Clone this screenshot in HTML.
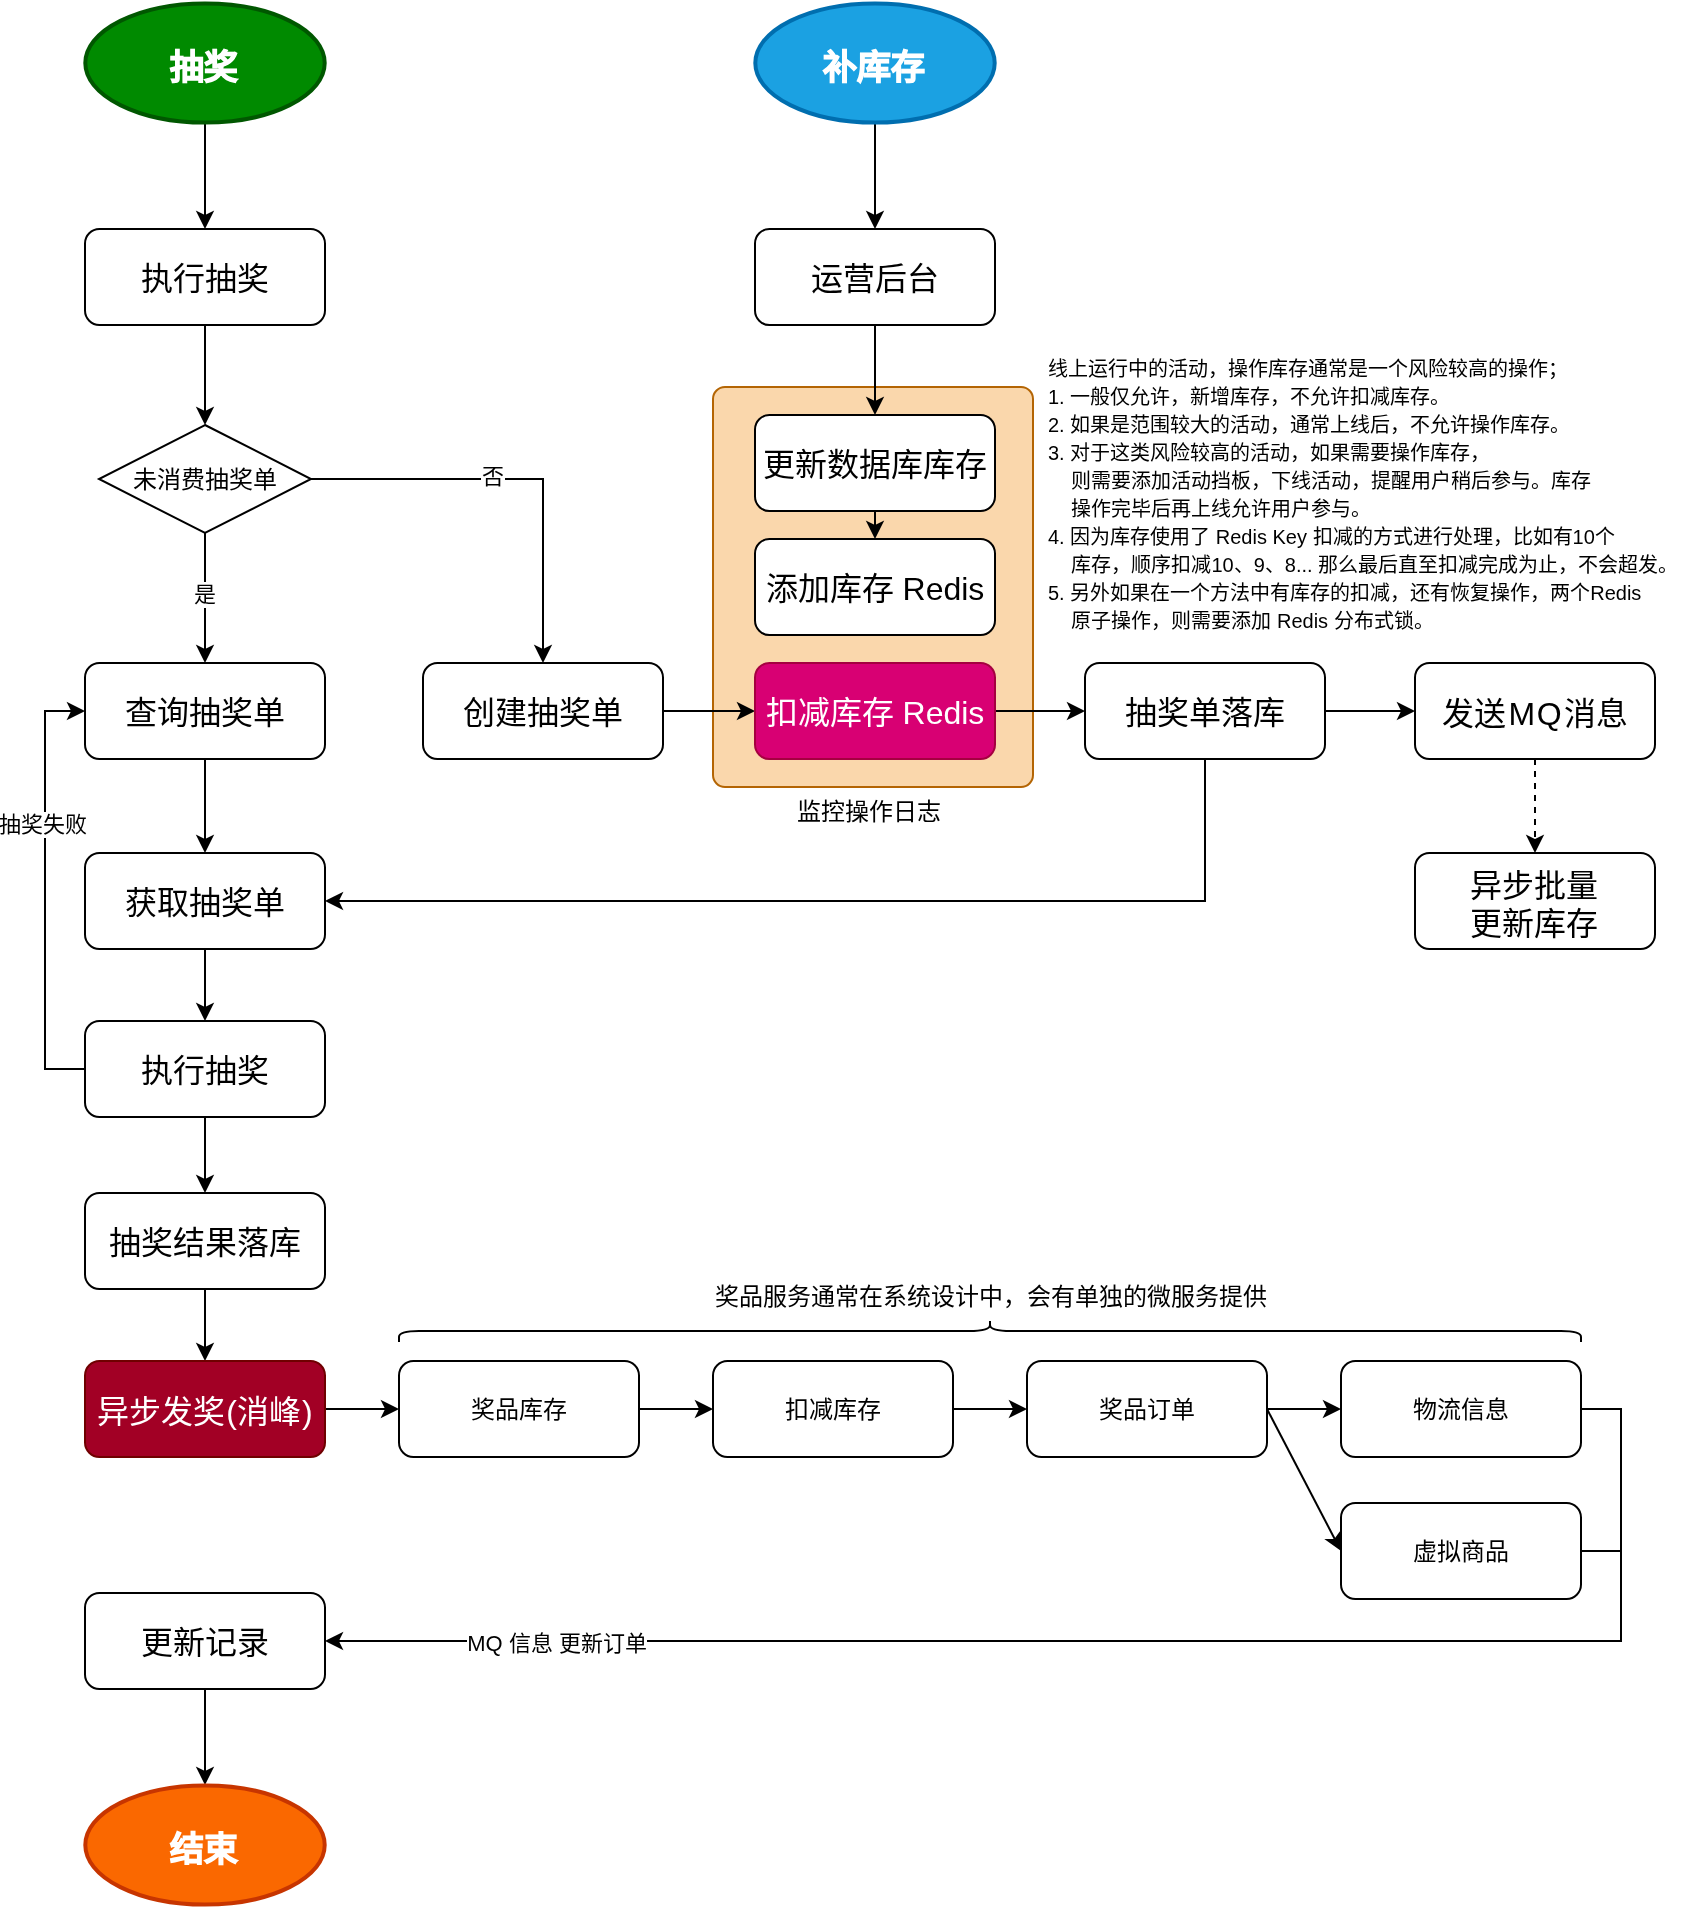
<!DOCTYPE html>
<html lang="zh-CN"><head><meta charset="utf-8"><title>flow</title>
<style>html,body{margin:0;padding:0;background:#fff;}body{width:1698px;height:1908px;overflow:hidden;}
svg{display:block;font-family:'Liberation Sans', sans-serif;will-change:transform;}</style></head>
<body><svg width="1698" height="1908" viewBox="0 0 1698 1908">
<rect width="1698" height="1908" fill="#fff"/>
<path d="M205.00 123.00 L205.00 216.26" fill="none" stroke="#000" stroke-width="2"/><path d="M205.00 226.76 L198.00 212.76 L205.00 216.26 L212.00 212.76 Z" fill="#000" stroke="#000" stroke-width="2" stroke-miterlimit="10"/>
<path d="M205.00 325.00 L205.00 412.26" fill="none" stroke="#000" stroke-width="2"/><path d="M205.00 422.76 L198.00 408.76 L205.00 412.26 L212.00 408.76 Z" fill="#000" stroke="#000" stroke-width="2" stroke-miterlimit="10"/>
<path d="M205.00 533.00 L205.00 650.26" fill="none" stroke="#000" stroke-width="2"/><path d="M205.00 660.76 L198.00 646.76 L205.00 650.26 L212.00 646.76 Z" fill="#000" stroke="#000" stroke-width="2" stroke-miterlimit="10"/>
<path d="M311.00 479.00 L543.00 479.00 L543.00 650.26" fill="none" stroke="#000" stroke-width="2"/><path d="M543.00 660.76 L536.00 646.76 L543.00 650.26 L550.00 646.76 Z" fill="#000" stroke="#000" stroke-width="2" stroke-miterlimit="10"/>
<path d="M205.00 759.00 L205.00 840.26" fill="none" stroke="#000" stroke-width="2"/><path d="M205.00 850.76 L198.00 836.76 L205.00 840.26 L212.00 836.76 Z" fill="#000" stroke="#000" stroke-width="2" stroke-miterlimit="10"/>
<path d="M205.00 949.00 L205.00 1008.26" fill="none" stroke="#000" stroke-width="2"/><path d="M205.00 1018.76 L198.00 1004.76 L205.00 1008.26 L212.00 1004.76 Z" fill="#000" stroke="#000" stroke-width="2" stroke-miterlimit="10"/>
<path d="M85.00 1069.00 L45.00 1069.00 L45.00 711.00 L72.26 711.00" fill="none" stroke="#000" stroke-width="2"/><path d="M82.76 711.00 L68.76 718.00 L72.26 711.00 L68.76 704.00 Z" fill="#000" stroke="#000" stroke-width="2" stroke-miterlimit="10"/>
<path d="M205.00 1117.00 L205.00 1180.26" fill="none" stroke="#000" stroke-width="2"/><path d="M205.00 1190.76 L198.00 1176.76 L205.00 1180.26 L212.00 1176.76 Z" fill="#000" stroke="#000" stroke-width="2" stroke-miterlimit="10"/>
<path d="M205.00 1289.00 L205.00 1348.26" fill="none" stroke="#000" stroke-width="2"/><path d="M205.00 1358.76 L198.00 1344.76 L205.00 1348.26 L212.00 1344.76 Z" fill="#000" stroke="#000" stroke-width="2" stroke-miterlimit="10"/>
<path d="M325.00 1409.00 L386.26 1409.00" fill="none" stroke="#000" stroke-width="2"/><path d="M396.76 1409.00 L382.76 1416.00 L386.26 1409.00 L382.76 1402.00 Z" fill="#000" stroke="#000" stroke-width="2" stroke-miterlimit="10"/>
<path d="M639.00 1409.00 L700.26 1409.00" fill="none" stroke="#000" stroke-width="2"/><path d="M710.76 1409.00 L696.76 1416.00 L700.26 1409.00 L696.76 1402.00 Z" fill="#000" stroke="#000" stroke-width="2" stroke-miterlimit="10"/>
<path d="M953.00 1409.00 L1014.26 1409.00" fill="none" stroke="#000" stroke-width="2"/><path d="M1024.76 1409.00 L1010.76 1416.00 L1014.26 1409.00 L1010.76 1402.00 Z" fill="#000" stroke="#000" stroke-width="2" stroke-miterlimit="10"/>
<path d="M1267.00 1409.00 L1328.26 1409.00" fill="none" stroke="#000" stroke-width="2"/><path d="M1338.76 1409.00 L1324.76 1416.00 L1328.26 1409.00 L1324.76 1402.00 Z" fill="#000" stroke="#000" stroke-width="2" stroke-miterlimit="10"/>
<path d="M1267.00 1409.00 L1335.11 1539.70" fill="none" stroke="#000" stroke-width="2"/><path d="M1339.96 1549.01 L1327.29 1539.83 L1335.11 1539.70 L1339.70 1533.36 Z" fill="#000" stroke="#000" stroke-width="2" stroke-miterlimit="10"/>
<path d="M1581.00 1409.00 L1621.00 1409.00 L1621.00 1641.00 L337.74 1641.00" fill="none" stroke="#000" stroke-width="2"/><path d="M327.24 1641.00 L341.24 1634.00 L337.74 1641.00 L341.24 1648.00 Z" fill="#000" stroke="#000" stroke-width="2" stroke-miterlimit="10"/>
<path d="M1581.00 1551.00 L1621.00 1551.00" fill="none" stroke="#000" stroke-width="2"/>
<path d="M205.00 1689.00 L205.00 1772.26" fill="none" stroke="#000" stroke-width="2"/><path d="M205.00 1782.76 L198.00 1768.76 L205.00 1772.26 L212.00 1768.76 Z" fill="#000" stroke="#000" stroke-width="2" stroke-miterlimit="10"/>
<path d="M875.00 123.00 L875.00 216.26" fill="none" stroke="#000" stroke-width="2"/><path d="M875.00 226.76 L868.00 212.76 L875.00 216.26 L882.00 212.76 Z" fill="#000" stroke="#000" stroke-width="2" stroke-miterlimit="10"/>
<rect x="713" y="387" width="320" height="400" rx="12" ry="12" fill="#fad7ac" stroke="#b46504" stroke-width="2"/>
<path d="M875.00 325.00 L875.00 402.26" fill="none" stroke="#000" stroke-width="2"/><path d="M875.00 412.76 L868.00 398.76 L875.00 402.26 L882.00 398.76 Z" fill="#000" stroke="#000" stroke-width="2" stroke-miterlimit="10"/>
<path d="M875.00 511.00 L875.00 526.26" fill="none" stroke="#000" stroke-width="2"/><path d="M875.00 536.76 L868.00 522.76 L875.00 526.26 L882.00 522.76 Z" fill="#000" stroke="#000" stroke-width="2" stroke-miterlimit="10"/>
<path d="M663.00 711.00 L742.26 711.00" fill="none" stroke="#000" stroke-width="2"/><path d="M752.76 711.00 L738.76 718.00 L742.26 711.00 L738.76 704.00 Z" fill="#000" stroke="#000" stroke-width="2" stroke-miterlimit="10"/>
<path d="M995.00 711.00 L1072.26 711.00" fill="none" stroke="#000" stroke-width="2"/><path d="M1082.76 711.00 L1068.76 718.00 L1072.26 711.00 L1068.76 704.00 Z" fill="#000" stroke="#000" stroke-width="2" stroke-miterlimit="10"/>
<path d="M1325.00 711.00 L1402.26 711.00" fill="none" stroke="#000" stroke-width="2"/><path d="M1412.76 711.00 L1398.76 718.00 L1402.26 711.00 L1398.76 704.00 Z" fill="#000" stroke="#000" stroke-width="2" stroke-miterlimit="10"/>
<path d="M1205.00 759.00 L1205.00 901.00 L337.74 901.00" fill="none" stroke="#000" stroke-width="2"/><path d="M327.24 901.00 L341.24 894.00 L337.74 901.00 L341.24 908.00 Z" fill="#000" stroke="#000" stroke-width="2" stroke-miterlimit="10"/>
<path d="M1535.00 759.00 L1535.00 840.26" fill="none" stroke="#000" stroke-width="2" stroke-dasharray="6 6"/><path d="M1535.00 850.76 L1528.00 836.76 L1535.00 840.26 L1542.00 836.76 Z" fill="#000" stroke="#000" stroke-width="2" stroke-miterlimit="10"/>
<path d="M399 1342 L399 1337 Q399 1331 419 1331 L969 1331 Q990 1331 990 1325 L990 1321 M990 1325 Q990 1331 1011 1331 L1561 1331 Q1581 1331 1581 1337 L1581 1342" fill="none" stroke="#000" stroke-width="2"/>
<ellipse cx="205" cy="63" rx="119.7" ry="59.6" fill="#008a00" stroke="#005700" stroke-width="4"/>
<ellipse cx="875" cy="63" rx="119.7" ry="59.6" fill="#1ba1e2" stroke="#006eaf" stroke-width="4"/>
<ellipse cx="205" cy="1845" rx="119.7" ry="59.6" fill="#fa6800" stroke="#c73500" stroke-width="4"/>
<path d="M205 425 L311 479 L205 533 L99 479 Z" fill="#fff" stroke="#000" stroke-width="2"/>
<rect x="85" y="229" width="240" height="96" rx="14.4" ry="14.4" fill="#fff" stroke="#000" stroke-width="2"/>
<rect x="85" y="663" width="240" height="96" rx="14.4" ry="14.4" fill="#fff" stroke="#000" stroke-width="2"/>
<rect x="85" y="853" width="240" height="96" rx="14.4" ry="14.4" fill="#fff" stroke="#000" stroke-width="2"/>
<rect x="85" y="1021" width="240" height="96" rx="14.4" ry="14.4" fill="#fff" stroke="#000" stroke-width="2"/>
<rect x="85" y="1193" width="240" height="96" rx="14.4" ry="14.4" fill="#fff" stroke="#000" stroke-width="2"/>
<rect x="85" y="1593" width="240" height="96" rx="14.4" ry="14.4" fill="#fff" stroke="#000" stroke-width="2"/>
<rect x="85" y="1361" width="240" height="96" rx="14.4" ry="14.4" fill="#a20025" stroke="#6f0000" stroke-width="2"/>
<rect x="755" y="229" width="240" height="96" rx="14.4" ry="14.4" fill="#fff" stroke="#000" stroke-width="2"/>
<rect x="755" y="415" width="240" height="96" rx="14.4" ry="14.4" fill="#fff" stroke="#000" stroke-width="2"/>
<rect x="755" y="539" width="240" height="96" rx="14.4" ry="14.4" fill="#fff" stroke="#000" stroke-width="2"/>
<rect x="755" y="663" width="240" height="96" rx="14.4" ry="14.4" fill="#d80073" stroke="#a50040" stroke-width="2"/>
<rect x="423" y="663" width="240" height="96" rx="14.4" ry="14.4" fill="#fff" stroke="#000" stroke-width="2"/>
<rect x="1085" y="663" width="240" height="96" rx="14.4" ry="14.4" fill="#fff" stroke="#000" stroke-width="2"/>
<rect x="1415" y="663" width="240" height="96" rx="14.4" ry="14.4" fill="#fff" stroke="#000" stroke-width="2"/>
<rect x="1415" y="853" width="240" height="96" rx="14.4" ry="14.4" fill="#fff" stroke="#000" stroke-width="2"/>
<rect x="399" y="1361" width="240" height="96" rx="14.4" ry="14.4" fill="#fff" stroke="#000" stroke-width="2"/>
<rect x="713" y="1361" width="240" height="96" rx="14.4" ry="14.4" fill="#fff" stroke="#000" stroke-width="2"/>
<rect x="1027" y="1361" width="240" height="96" rx="14.4" ry="14.4" fill="#fff" stroke="#000" stroke-width="2"/>
<rect x="1341" y="1361" width="240" height="96" rx="14.4" ry="14.4" fill="#fff" stroke="#000" stroke-width="2"/>
<rect x="1341" y="1503" width="240" height="96" rx="14.4" ry="14.4" fill="#fff" stroke="#000" stroke-width="2"/>
<text x="204" y="78.8" font-size="34" fill="#fff" font-weight="bold" text-anchor="middle" stroke="#fff" stroke-width="1.2">抽奖</text>
<text x="874" y="78.8" font-size="34" fill="#fff" font-weight="bold" text-anchor="middle" stroke="#fff" stroke-width="1.2">补库存</text>
<text x="204" y="1860.8" font-size="34" fill="#fff" font-weight="bold" text-anchor="middle" stroke="#fff" stroke-width="1.2">结束</text>
<text x="205" y="290.22" font-size="32" fill="#000" font-weight="normal" text-anchor="middle">执行抽奖</text>
<text x="205" y="488.24" font-size="24" fill="#000" font-weight="normal" text-anchor="middle">未消费抽奖单</text>
<text x="205" y="724.22" font-size="32" fill="#000" font-weight="normal" text-anchor="middle">查询抽奖单</text>
<text x="543" y="724.22" font-size="32" fill="#000" font-weight="normal" text-anchor="middle">创建抽奖单</text>
<text x="205" y="914.22" font-size="32" fill="#000" font-weight="normal" text-anchor="middle">获取抽奖单</text>
<text x="205" y="1082.22" font-size="32" fill="#000" font-weight="normal" text-anchor="middle">执行抽奖</text>
<text x="205" y="1254.22" font-size="32" fill="#000" font-weight="normal" text-anchor="middle">抽奖结果落库</text>
<text x="205" y="1422.92" font-size="32" fill="#fff" font-weight="normal" text-anchor="middle">异步发奖<tspan dx="1">(</tspan>消峰<tspan dx="1">)</tspan></text>
<text x="205" y="1654.22" font-size="32" fill="#000" font-weight="normal" text-anchor="middle">更新记录</text>
<text x="875" y="290.22" font-size="32" fill="#000" font-weight="normal" text-anchor="middle">运营后台</text>
<text x="875" y="476.22" font-size="32" fill="#000" font-weight="normal" text-anchor="middle">更新数据库库存</text>
<text x="875" y="600.22" font-size="32" fill="#000" font-weight="normal" text-anchor="middle">添加库存 Redis</text>
<text x="875" y="724.22" font-size="32" fill="#fff" font-weight="normal" text-anchor="middle">扣减库存 Redis</text>
<text x="1205" y="724.22" font-size="32" fill="#000" font-weight="normal" text-anchor="middle">抽奖单落库</text>
<text x="1535" y="724.72" font-size="32" fill="#000" font-weight="normal" text-anchor="middle">发送<tspan dx="2">M</tspan><tspan dx="1.5">Q</tspan><tspan dx="2">消息</tspan></text>
<text x="1533.5" y="896.8" font-size="32" fill="#000" font-weight="normal" text-anchor="middle">异步批量</text>
<text x="1533.5" y="934.9" font-size="32" fill="#000" font-weight="normal" text-anchor="middle">更新库存</text>
<text x="519" y="1418.24" font-size="24" fill="#000" font-weight="normal" text-anchor="middle">奖品库存</text>
<text x="833" y="1418.24" font-size="24" fill="#000" font-weight="normal" text-anchor="middle">扣减库存</text>
<text x="1147" y="1418.24" font-size="24" fill="#000" font-weight="normal" text-anchor="middle">奖品订单</text>
<text x="1461" y="1418.24" font-size="24" fill="#000" font-weight="normal" text-anchor="middle">物流信息</text>
<text x="1461" y="1560.24" font-size="24" fill="#000" font-weight="normal" text-anchor="middle">虚拟商品</text>
<rect x="481" y="466" width="24" height="26" fill="#fff"/>
<text x="493" y="484.12" font-size="22" fill="#000" font-weight="normal" text-anchor="middle">否</text>
<rect x="193" y="582" width="24" height="26" fill="#fff"/>
<text x="205" y="602.12" font-size="22" fill="#000" font-weight="normal" text-anchor="middle">是</text>
<rect x="-2" y="812" width="90" height="26" fill="#fff"/>
<text x="43" y="832.12" font-size="22" fill="#000" font-weight="normal" text-anchor="middle">抽奖失败</text>
<rect x="467" y="1628" width="180" height="26" fill="#fff"/>
<text x="557" y="1650.62" font-size="22" fill="#000" font-weight="normal" text-anchor="middle">MQ 信息 更新订单</text>
<text x="869" y="820.24" font-size="24" fill="#000" font-weight="normal" text-anchor="middle">监控操作日志</text>
<text x="991" y="1305.24" font-size="24" fill="#000" font-weight="normal" text-anchor="middle">奖品服务通常在系统设计中，会有单独的微服务提供</text>
<text x="1048" y="375.5" font-size="20" fill="#000" xml:space="preserve">线上运行中的活动，操作库存通常是一个风险较高的操作；</text>
<text x="1048" y="403.5" font-size="20" fill="#000" xml:space="preserve">1. 一般仅允许，新增库存，不允许扣减库存。</text>
<text x="1048" y="431.5" font-size="20" fill="#000" xml:space="preserve">2. 如果是范围较大的活动，通常上线后，不允许操作库存。</text>
<text x="1048" y="459.5" font-size="20" fill="#000" xml:space="preserve">3. 对于这类风险较高的活动，如果需要操作库存，</text>
<text x="1049.2" y="487.5" font-size="20" fill="#000" xml:space="preserve">&#160;&#160;&#160; 则需要添加活动挡板，下线活动，提醒用户稍后参与。库存</text>
<text x="1049.2" y="515.5" font-size="20" fill="#000" xml:space="preserve">&#160;&#160;&#160; 操作完毕后再上线允许用户参与。</text>
<text x="1048" y="543.5" font-size="20" fill="#000" xml:space="preserve">4. 因为库存使用了 Redis Key 扣减的方式进行处理，比如有10个</text>
<text x="1049.2" y="571.5" font-size="20" fill="#000" xml:space="preserve">&#160;&#160;&#160; 库存，顺序扣减10、9、8... 那么最后直至扣减完成为止，不会超发。</text>
<text x="1048" y="599.5" font-size="20" fill="#000" xml:space="preserve">5. 另外如果在一个方法中有库存的扣减，还有恢复操作，两个Redis</text>
<text x="1049.2" y="627.5" font-size="20" fill="#000" xml:space="preserve">&#160;&#160;&#160; 原子操作，则需要添加 Redis 分布式锁。</text>
</svg></body></html>
